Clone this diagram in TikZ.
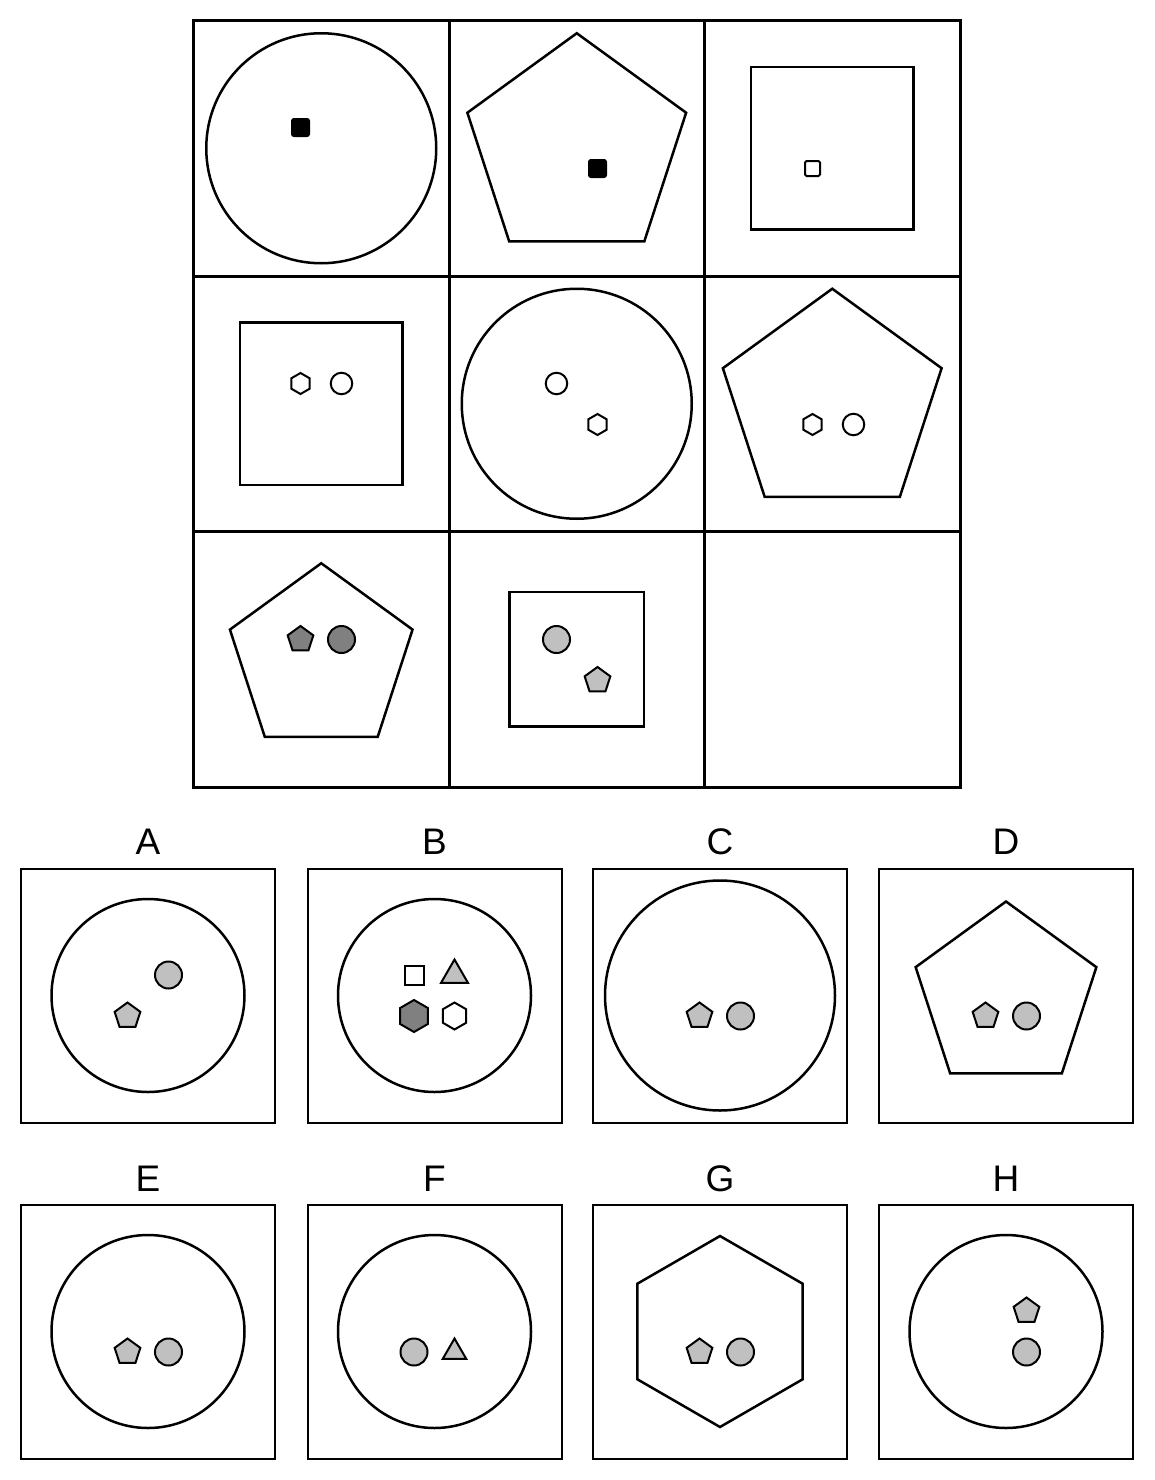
\documentclass[tikz,border=0pt]{standalone}
\usepackage{fontspec}
\setmainfont{Liberation Sans}
\usetikzlibrary{shapes.geometric}
\definecolor{lightgrey}{RGB}{192,192,192}
\definecolor{darkgrey}{RGB}{128,128,128}
\begin{document}
\begin{tikzpicture}[x=1pt,y=-1pt,
    cell/.style={rectangle,draw,line width=3pt,minimum size=255.5pt,inner sep=0pt},
    optbox/.style={rectangle,draw,line width=2pt,minimum size=254pt,inner sep=0pt},
    big/.style={draw,line width=2.5pt,inner sep=0pt},
    ring/.style={big,circle,minimum size=#1},ring/.default=230pt,
    pent/.style={big,regular polygon,regular polygon sides=5,minimum size=#1},pent/.default=230pt,
    quad/.style={big,regular polygon,regular polygon sides=4,minimum size=#1},quad/.default=230pt,
    hexa/.style={big,regular polygon,regular polygon sides=6,regular polygon rotate=30,minimum size=#1},
    item/.style={draw,line width=2pt,inner sep=0pt,fill=white},
    sq/.style={item,rectangle,minimum size=#1},
    dot/.style={item,circle,minimum size=#1},dot/.default=27pt,
    pentlet/.style={item,regular polygon,regular polygon sides=5,minimum size=#1},pentlet/.default=27pt,
    hexlet/.style={item,regular polygon,regular polygon sides=6,regular polygon rotate=30,minimum size=#1},
    tri/.style={item,regular polygon,regular polygon sides=3,minimum size=#1},
    lab/.style={font=\fontsize{37}{44}\selectfont,inner sep=0pt}]
    \useasboundingbox (0,0) rectangle (1154,1480);

    % Matrix cells
    \node[cell] (c11) at (321.25,148.25) {};
    \node[cell] (c12) at (576.75,148.25) {};
    \node[cell] (c13) at (832.25,148.25) {};
    \node[cell] (c21) at (321.25,403.75) {};
    \node[cell] (c22) at (576.75,403.75) {};
    \node[cell] (c23) at (832.25,403.75) {};
    \node[cell] (c31) at (321.25,659.25) {};
    \node[cell] (c32) at (576.75,659.25) {};
    \node[cell] (c33) at (832.25,659.25) {};

    % Row 1
    \node[ring] (s11) at (c11) {};
    \node[sq=17pt,fill=black,rounded corners=2pt] (m11) at (300.5,127.5) {};
    \node[pent] (s12) at (c12) {};
    \node[sq=17pt,fill=black,rounded corners=2pt] (m12) at (597.5,168.5) {};
    \node[quad] (s13) at (c13) {};
    \node[sq=15pt,rounded corners=1.5pt] (m13) at (812.5,168.5) {};

    % Row 2
    \node[quad] (s21) at (c21) {};
    \node[hexlet=21pt] (h21) at (300.5,383.5) {};
    \node[dot=21.5pt] (d21) at (341.5,383.5) {};
    \node[ring] (s22) at (c22) {};
    \node[dot=21.5pt] (d22) at (556.5,383.5) {};
    \node[hexlet=21pt] (h22) at (597.5,424.5) {};
    \node[pent] (s23) at (c23) {};
    \node[hexlet=21pt] (h23) at (812.5,424.5) {};
    \node[dot=21.5pt] (d23) at (853.5,424.5) {};

    % Row 3
    \node[pent=192pt] (s31) at (c31) {};
    \node[pentlet,fill=darkgrey] (p31) at (300.5,639.5) {};
    \node[dot,fill=darkgrey] (d31) at (341.5,639.5) {};
    \node[quad=190pt] (s32) at (c32) {};
    \node[dot,fill=lightgrey] (d32) at (556.5,639.5) {};
    \node[pentlet,fill=lightgrey] (p32) at (597.5,680.5) {};

    % Answer options
    \node[optbox] (oA) at (148,995.5) {};
    \node[optbox] (oB) at (434.5,995.5) {};
    \node[optbox] (oC) at (720,995.5) {};
    \node[optbox] (oD) at (1006,995.5) {};
    \node[optbox] (oE) at (148,1331.5) {};
    \node[optbox] (oF) at (434.5,1331.5) {};
    \node[optbox] (oG) at (720,1331.5) {};
    \node[optbox] (oH) at (1006,1331.5) {};
    \node[lab] (lA) at (148,841.5) {A};
    \node[lab] (lB) at (434.5,841.5) {B};
    \node[lab] (lC) at (720,841.5) {C};
    \node[lab] (lD) at (1006,841.5) {D};
    \node[lab] (lE) at (148,1178.5) {E};
    \node[lab] (lF) at (434.5,1178.5) {F};
    \node[lab] (lG) at (720,1178.5) {G};
    \node[lab] (lH) at (1006,1178.5) {H};

    \node[ring=193pt] (rA) at (oA) {};
    \node[dot,fill=lightgrey] (dA) at (168.5,975) {};
    \node[pentlet,fill=lightgrey] (pA) at (127.5,1016) {};

    \node[ring=193pt] (rB) at (oB) {};
    \node[sq=19pt] (qB) at (414,975) {};
    \node[tri=31pt,fill=lightgrey] (tB) at (454.5,975) {};
    \node[hexlet=32pt,fill=darkgrey] (hB) at (414,1016) {};
    \node[hexlet=27pt] (wB) at (454.5,1016) {};

    \node[ring] (rC) at (oC) {};
    \node[pentlet,fill=lightgrey] (pC) at (699.5,1016) {};
    \node[dot,fill=lightgrey] (dC) at (740.5,1016) {};

    \node[pent=190pt] (rD) at (1006,996.5) {};
    \node[pentlet,fill=lightgrey] (pD) at (985.5,1016) {};
    \node[dot,fill=lightgrey] (dD) at (1026.5,1016) {};

    \node[ring=193pt] (rE) at (oE) {};
    \node[pentlet,fill=lightgrey] (pE) at (127.5,1352) {};
    \node[dot,fill=lightgrey] (dE) at (168.5,1352) {};

    \node[ring=193pt] (rF) at (oF) {};
    \node[dot,fill=lightgrey] (dF) at (414,1352) {};
    \node[tri=27pt,fill=lightgrey] (tF) at (454.5,1352) {};

    \node[hexa=191pt] (rG) at (oG) {};
    \node[pentlet,fill=lightgrey] (pG) at (699.5,1352) {};
    \node[dot,fill=lightgrey] (dG) at (740.5,1352) {};

    \node[ring=193pt] (rH) at (oH) {};
    \node[pentlet,fill=lightgrey] (pH) at (1026.5,1311) {};
    \node[dot,fill=lightgrey] (dH) at (1026.5,1352) {};
\end{tikzpicture}
\end{document}
